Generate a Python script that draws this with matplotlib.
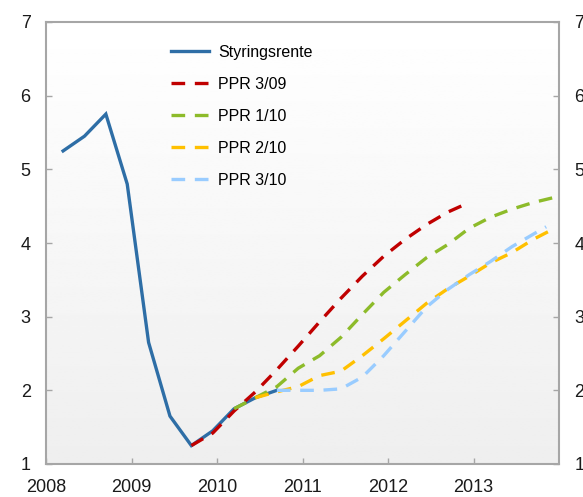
import numpy as np
import matplotlib
matplotlib.use("Agg")
import matplotlib.pyplot as plt

plt.rcParams['font.family'] = ['Liberation Sans', 'DejaVu Sans']

# ---- data ----
rate_x = [2008.2, 2008.45, 2008.7, 2008.95, 2009.2, 2009.45, 2009.7, 2009.95, 2010.2, 2010.45, 2010.7]
rate_y = [5.25, 5.45, 5.75, 4.8, 2.65, 1.65, 1.25, 1.45, 1.75, 1.9, 2.0]

ppr309_x = [2009.7, 2009.95, 2010.2, 2010.45, 2010.7, 2010.95, 2011.2, 2011.45, 2011.7, 2011.95,
            2012.2, 2012.45, 2012.7, 2012.95]
ppr309_y = [1.25, 1.42, 1.72, 1.98, 2.28, 2.6, 2.93, 3.25, 3.55, 3.82, 4.05, 4.25, 4.42, 4.55]

ppr110_x = [2010.2, 2010.45, 2010.7, 2010.95, 2011.2, 2011.45, 2011.7, 2011.95, 2012.2, 2012.45,
            2012.7, 2012.95, 2013.2, 2013.45, 2013.7, 2013.95]
ppr110_y = [1.75, 1.9, 2.05, 2.3, 2.47, 2.72, 3.03, 3.33, 3.57, 3.8, 3.98, 4.2, 4.35, 4.46, 4.55, 4.62]

ppr210_x = [2010.45, 2010.7, 2010.95, 2011.2, 2011.45, 2011.7, 2011.95, 2012.2, 2012.45, 2012.7,
            2012.95, 2013.2, 2013.45, 2013.7, 2013.95]
ppr210_y = [1.9, 1.98, 2.05, 2.2, 2.26, 2.47, 2.7, 2.94, 3.18, 3.38, 3.55, 3.73, 3.87, 4.05, 4.2]

ppr310_x = [2010.7, 2010.95, 2011.2, 2011.45, 2011.7, 2011.95, 2012.2, 2012.45, 2012.7, 2012.95,
            2013.2, 2013.45, 2013.7, 2013.85]
ppr310_y = [2.0, 2.0, 2.0, 2.02, 2.18, 2.47, 2.8, 3.13, 3.37, 3.57, 3.75, 3.95, 4.12, 4.22]

labels = ['Styringsrente', 'PPR 3/09', 'PPR 1/10', 'PPR 2/10', 'PPR 3/10']
x_ticks = [2008, 2009, 2010, 2011, 2012, 2013]
y_ticks = [1, 2, 3, 4, 5, 6, 7]

# ---- figure ----
fig = plt.figure(figsize=(5.83, 4.97), dpi=100)
ax = fig.add_axes([46/583, 33/497, 513/583, 442/497])

# gradient background
grad = np.linspace(0.935, 1.0, 256).reshape(-1, 1)
ax.imshow(grad, extent=[0, 1, 0, 1], transform=ax.transAxes, origin='lower',
          cmap='gray', vmin=0, vmax=1, aspect='auto', zorder=0)

lw = 2.4
dash = (4.1, 2.9)
ax.plot(rate_x, rate_y, color='#2e6ea6', lw=lw, label=labels[0], zorder=2, solid_joinstyle='miter')
ax.plot(ppr309_x, ppr309_y, color='#c00000', lw=lw, dashes=dash, label=labels[1], zorder=3)
ax.plot(ppr110_x, ppr110_y, color='#8dbb2a', lw=lw, dashes=dash, label=labels[2], zorder=3)
ax.plot(ppr210_x, ppr210_y, color='#ffc000', lw=lw, dashes=dash, label=labels[3], zorder=3)
ax.plot(ppr310_x, ppr310_y, color='#99ccff', lw=lw, dashes=dash, label=labels[4], zorder=3)

ax.set_xlim(2008, 2014)
ax.set_ylim(1, 7)
ax.set_xticks(x_ticks)
ax.set_xticklabels([str(t) for t in x_ticks])
ax.set_yticks(y_ticks)

spine_c = '#a6a6a6'
for s in ax.spines.values():
    s.set_color(spine_c)
    s.set_linewidth(1.5)

ax.tick_params(axis='both', direction='in', length=4.5, width=1, color=spine_c,
               labelsize=13, labelcolor='#1a1a1a')
ax.tick_params(axis='x', pad=11)
ax.tick_params(axis='y', pad=11, right=True, labelright=True)

leg = ax.legend(loc='upper left', bbox_to_anchor=(0.243, 0.948), frameon=False,
                fontsize=11.5, handlelength=2.4, handletextpad=0.55, labelspacing=1.06,
                borderpad=0, borderaxespad=0)

fig.savefig('out.png', dpi=100)
